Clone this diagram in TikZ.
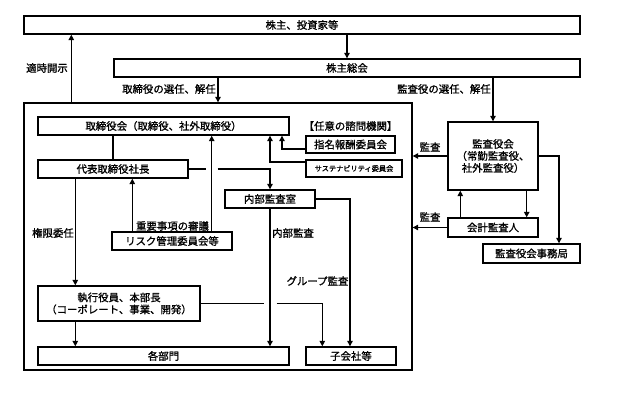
\documentclass[tikz,border=0pt]{standalone}
\usepackage{fontspec}
\setmainfont{Noto Sans CJK JP}[FakeBold=1.2,AutoFakeBold=1.2]
\usetikzlibrary{arrows.meta,calc}
\begin{document}
\begin{tikzpicture}[x=1pt,y=-1pt,
 box/.style={draw, line width=1.4pt, inner sep=0pt, minimum height=18pt, align=center, font=\fontsize{10.4}{12}\selectfont\bfseries},
 lbl/.style={inner sep=0pt, font=\fontsize{10.4}{12}\selectfont\bfseries},
 arr/.style={line width=1.2pt, -{Triangle[length=5.5pt,width=5.5pt]}},
 ln/.style={line width=1.2pt}]
\useasboundingbox (0,0) rectangle (627,393);
% boxes
\node[box, minimum width=556pt] (top) at (302,25) {株主、投資家等};
\node[box, minimum width=466pt] (soukai) at (347,68) {株主総会};
\node[box, minimum width=388pt, minimum height=267pt] (big) at (218,236.5) {};
\node[box, minimum width=251pt] (tori) at (163.5,126) {取締役会（取締役、社外取締役）};
\node[box, minimum width=150pt] (daihyo) at (113,169) {代表取締役社長};
\node[box, minimum width=90pt] (naibu) at (270,199) {内部監査室};
\node[box, minimum width=120pt] (risk) at (172,241) {リスク管理委員会等};
\node[box, minimum width=89pt, minimum height=17pt] (shimei) at (350.5,144.5) {指名報酬委員会};
\node[box, minimum width=96pt, minimum height=17pt, font=\fontsize{7.2}{8}\selectfont\bfseries] (sustain) at (354,168.5) {サステナビリティ委員会};
\node[box, minimum width=162pt, minimum height=35pt] (shikko) at (119,303.5) {執行役員、本部長\\（コーポレート、事業、開発）};
\node[box, minimum width=251pt] (bumon) at (163.5,356) {各部門};
\node[box, minimum width=90pt] (ko) at (351,356) {子会社等};
\node[box, minimum width=90pt, minimum height=68pt] (kansa) at (493,156) {監査役会\\（常勤監査役、\\社外監査役）};
\node[box, minimum width=90pt, minimum height=19pt] (kaikei) at (493,227.5) {会計監査人};
\node[box, minimum width=97pt, minimum height=19pt] (jimu) at (531.5,253.5) {監査役会事務局};
% labels
\node[lbl, anchor=east] (l1) at (68,68) {適時開示};
\node[lbl, anchor=east] (l2) at (216,89) {取締役の選任、解任};
\node[lbl, anchor=east] (l3) at (491,89) {監査役の選任、解任};
\node[lbl] (l4) at (430,147) {監査};
\node[lbl] (l5) at (430,217) {監査};
\node[lbl] (l6) at (172.5,226) {重要事項の審議};
\node[lbl] (l7) at (53,233) {権限委任};
\node[lbl] (l8) at (293,233) {内部監査};
\node[lbl] (l9) at (317.5,281) {グループ監査};
\node[lbl] (l10) at (350.5,126) {【任意の諮問機関】};
% coordinates
\coordinate (tk) at ([xshift=48pt]big.north west);
\coordinate (rkL) at ([xshift=21pt]risk.north west);
\coordinate (rkR) at ([xshift=-21pt]risk.north east);
\coordinate (dk) at ([xshift=38pt]daihyo.south west);
% connectors
\draw[arr] (soukai.north |- top.south) -- (soukai.north);
\draw[arr] (tk) -- (tk |- top.south);
\draw[arr] (big.north |- soukai.south) -- (big.north);
\draw[arr] (kansa.north |- soukai.south) -- (kansa.north);
\draw[arr] (kansa.west) -- (kansa.west -| big.east);
\draw[arr] (kaikei.west) -- (kaikei.west -| big.east);
\draw[arr] ([xshift=13pt]kaikei.north west) -- ([xshift=13pt]kaikei.north west |- kansa.south);
\draw[arr] ([xshift=-12pt]kansa.south east) -- ([xshift=-12pt]kansa.south east |- kaikei.north);
\draw[arr] (kansa.east) -| ([xshift=27.5pt]jimu.north);
\draw[ln] (daihyo.north) -- (daihyo.north |- tori.south);
\draw[ln] (daihyo.east) -- ([xshift=-6pt]rkR |- daihyo.east);
\draw[arr] ([xshift=6pt]rkR |- daihyo.east) -| (naibu.north);
\draw[arr] ([yshift=6.5pt]sustain.west) -| (naibu.north |- tori.south);
\draw[arr] ([yshift=-4.5pt]shimei.west) -| ([xshift=118.5pt]tori.south);
\draw[arr] (rkL) -- (rkL |- daihyo.south);
\draw[arr] (rkR) -- (rkR |- tori.south);
\draw[arr] (dk) -- (dk |- shikko.north);
\draw[arr] (dk |- shikko.south) -- (dk |- bumon.north);
\draw[arr] (naibu.south) -- (naibu.south |- bumon.north);
\draw[arr] (naibu.east) -| ([xshift=-1pt]ko.north);
\draw[ln] (shikko.east) -- ([xshift=-6.5pt]naibu.south |- shikko.east);
\draw[arr] ([xshift=6.5pt]naibu.south |- shikko.east) -| ([xshift=17pt]ko.north west);
\end{tikzpicture}
\end{document}
